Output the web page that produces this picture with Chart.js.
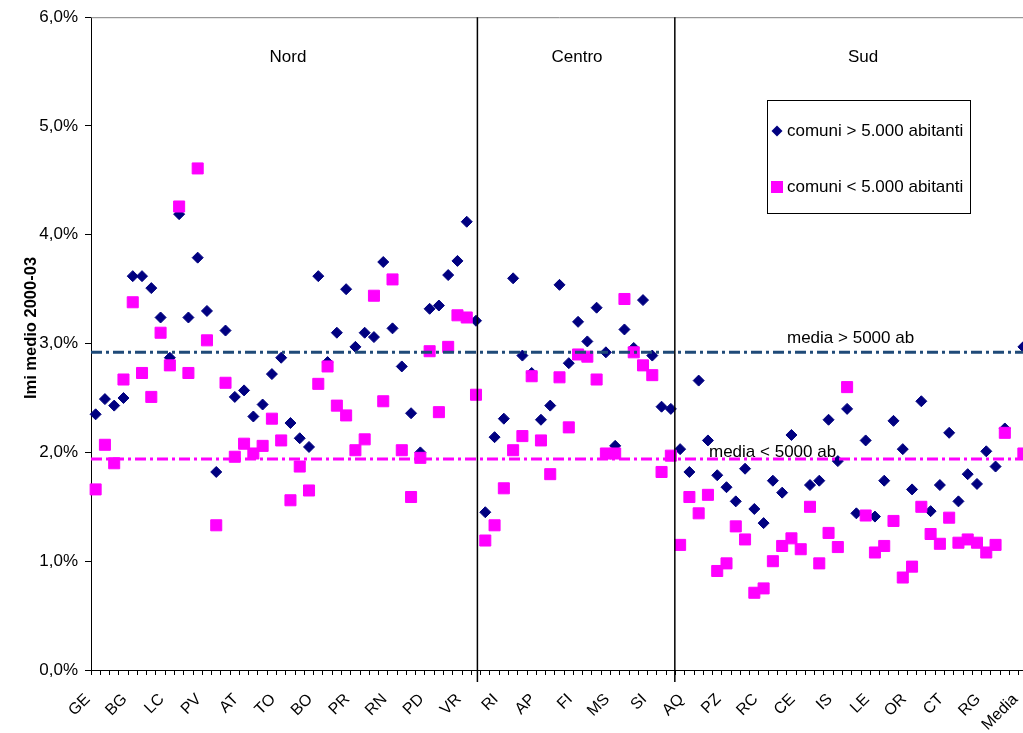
<!DOCTYPE html>
<html>
<head>
<meta charset="utf-8">
<script src="https://cdn.jsdelivr.net/npm/chart.js@4.4.1/dist/chart.umd.min.js"></script>
<style>
  html, body { margin: 0; padding: 0; background: #fff; overflow: hidden; }
  #wrap { width: 1052px; height: 733px; }
</style>
</head>
<body>
<div id="wrap"><canvas id="imiChart"></canvas></div>
<script>
// etichette visibili sull'asse x (una ogni 4 categorie)
const tickLabels = ['GE', 'BG', 'LC', 'PV', 'AT', 'TO', 'BO', 'PR', 'RN', 'PD', 'VR', 'RI', 'AP',
  'FI', 'MS', 'SI', 'AQ', 'PZ', 'RC', 'CE', 'IS', 'LE', 'OR', 'CT', 'RG', 'Media'];
const nCategorie = 101;
const categorie = Array.from({ length: nCategorie }, (_, i) => (i % 4 === 0 ? tickLabels[i / 4] : ''));

// imi medio 2000-03 (%), comuni > 5.000 abitanti
const sopra5000 = [
  2.35, 2.49, 2.43, 2.50, 3.62, 3.62, 3.51, 3.24, 2.87, 4.19,
  3.24, 3.79, 3.30, 1.82, 3.12, 2.51, 2.57, 2.33, 2.44, 2.72,
  2.87, 2.27, 2.13, 2.05, 3.62, 2.83, 3.10, 3.50, 2.97, 3.10,
  3.06, 3.75, 3.14, 2.79, 2.36, 2.00, 3.32, 3.35, 3.63, 3.76,
  4.12, 3.21, 1.45, 2.14, 2.31, 3.60, 2.89, 2.73, 2.30, 2.43,
  3.54, 2.82, 3.20, 3.02, 3.33, 2.92, 2.06, 3.13, 2.96, 3.40,
  2.89, 2.42, 2.40, 2.03, 1.82, 2.66, 2.11, 1.79, 1.68, 1.55,
  1.85, 1.48, 1.35, 1.74, 1.63, 2.16, null, 1.70, 1.74, 2.30,
  1.92, 2.40, 1.44, 2.11, 1.41, 1.74, 2.29, 2.03, 1.66, 2.47,
  1.46, 1.70, 2.18, 1.55, 1.80, 1.71, 2.01, 1.87, 2.22, null,
  2.97
];

// imi medio 2000-03 (%), comuni < 5.000 abitanti
const sotto5000 = [
  1.66, 2.07, 1.90, 2.67, 3.38, 2.73, 2.51, 3.10, 2.80, 4.26,
  2.73, 4.61, 3.03, 1.33, 2.64, 1.96, 2.08, 1.99, 2.06, 2.31,
  2.11, 1.56, 1.87, 1.65, 2.63, 2.79, 2.43, 2.34, 2.02, 2.12,
  3.44, 2.47, 3.59, 2.02, 1.59, 1.95, 2.93, 2.37, 2.97, 3.26,
  3.24, 2.53, 1.19, 1.33, 1.67, 2.02, 2.15, 2.70, 2.11, 1.80,
  2.69, 2.23, 2.90, 2.88, 2.67, 1.99, 1.99, 3.41, 2.92, 2.80,
  2.71, 1.82, 1.97, 1.15, 1.59, 1.44, 1.61, 0.91, 0.98, 1.32,
  1.20, 0.71, 0.75, 1.00, 1.14, 1.21, 1.11, 1.50, 0.98, 1.26,
  1.13, 2.60, null, 1.42, 1.08, 1.14, 1.37, 0.85, 0.95, 1.50,
  1.25, 1.16, 1.40, 1.17, 1.20, 1.17, 1.08, 1.15, 2.18, null,
  1.99
];

const mediaSopra = 2.92;
const mediaSotto = 1.94;

const aree = ['Nord', 'Centro', 'Sud'];
const titoloY = 'Imi medio 2000-03';

const FONT = "'Liberation Sans', Arial, sans-serif";
Chart.defaults.font.family = FONT;
Chart.defaults.color = '#000';

// linee di media, separatori delle aree, testi e legenda
const overlay = {
  id: 'overlay',
  afterDatasetsDraw(chart) {
    const { ctx, chartArea: a, scales: { x, y } } = chart;
    ctx.save();

    // bordo superiore dell'area del grafico
    ctx.strokeStyle = '#808080';
    ctx.lineWidth = 1;
    ctx.beginPath();
    ctx.moveTo(a.left, a.top + 0.5);
    ctx.lineTo(a.right, a.top + 0.5);
    ctx.stroke();

    // medie
    ctx.lineWidth = 3;
    ctx.setLineDash([11, 4, 3, 4]);
    [[mediaSopra, '#1F4A78'], [mediaSotto, '#FF00FF']].forEach(([v, col]) => {
      const py = y.getPixelForValue(v);
      ctx.strokeStyle = col;
      ctx.beginPath();
      ctx.moveTo(a.left, py);
      ctx.lineTo(a.right, py);
      ctx.stroke();
    });
    ctx.setLineDash([]);

    // separatori Nord / Centro / Sud
    ctx.strokeStyle = '#000';
    ctx.lineWidth = 1.5;
    [41.65, 62.93].forEach(pos => {
      const px = x.getPixelForDecimal(pos / nCategorie);
      ctx.beginPath();
      ctx.moveTo(px, a.top);
      ctx.lineTo(px, a.bottom + 12);
      ctx.stroke();
    });

    ctx.fillStyle = '#000';
    ctx.font = '17px ' + FONT;
    ctx.textBaseline = 'middle';
    ctx.textAlign = 'center';
    [[aree[0], 288], [aree[1], 577], [aree[2], 863]].forEach(([t, px]) => ctx.fillText(t, px, 57));

    ctx.textAlign = 'left';
    ctx.textBaseline = 'alphabetic';
    ctx.fillText('media > 5000 ab', 787, y.getPixelForValue(mediaSopra) - 9);
    ctx.fillText('media < 5000 ab', 709, y.getPixelForValue(mediaSotto) - 2);

    // legenda
    ctx.fillStyle = '#fff';
    ctx.fillRect(767.5, 100.5, 203, 113);
    ctx.strokeStyle = '#000';
    ctx.lineWidth = 1;
    ctx.strokeRect(767.5, 100.5, 203, 113);
    const ds = chart.data.datasets;
    [[ds[0], 131], [ds[1], 187]].forEach(([d, ly]) => {
      ctx.fillStyle = d.backgroundColor;
      ctx.beginPath();
      if (d.pointStyle === 'rectRot') {
        ctx.moveTo(777, ly - 5.5);
        ctx.lineTo(782.5, ly);
        ctx.lineTo(777, ly + 5.5);
        ctx.lineTo(771.5, ly);
      } else {
        ctx.rect(771, ly - 6, 12, 12);
      }
      ctx.fill();
      ctx.fillStyle = '#000';
      ctx.textBaseline = 'middle';
      ctx.fillText(d.label, 787, ly);
    });

    // titolo asse y
    ctx.translate(31, 328);
    ctx.rotate(-Math.PI / 2);
    ctx.textAlign = 'center';
    ctx.font = 'bold 16.5px ' + FONT;
    ctx.fillText(titoloY, 0, 0);
    ctx.restore();
  }
};

new Chart(document.getElementById('imiChart'), {
  type: 'line',
  data: {
    labels: categorie,
    datasets: [
      {
        label: 'comuni > 5.000 abitanti',
        data: sopra5000,
        showLine: false,
        pointStyle: 'rectRot',
        pointRadius: 5.5,
        pointHoverRadius: 5.5,
        backgroundColor: '#000080',
        borderColor: '#000080',
        borderWidth: 1,
        order: 1
      },
      {
        label: 'comuni < 5.000 abitanti',
        data: sotto5000,
        showLine: false,
        pointStyle: 'rect',
        pointRadius: 7.8,
        pointHoverRadius: 7.8,
        backgroundColor: '#FF00FF',
        borderColor: '#FF00FF',
        borderWidth: 1,
        order: 0
      }
    ]
  },
  options: {
    responsive: true,
    maintainAspectRatio: false,
    animation: false,
    layout: { padding: { top: 16, right: 4, left: 0, bottom: 0 } },
    plugins: {
      legend: { display: false },
      tooltip: { enabled: false }
    },
    scales: {
      x: {
        type: 'category',
        offset: true,
        grid: { offset: true, drawOnChartArea: false, tickLength: 5, color: '#000' },
        border: { color: '#000' },
        ticks: {
          autoSkip: false,
          minRotation: 45,
          maxRotation: 45,
          padding: 15,
          labelOffset: -8,
          font: { size: 16 }
        },
        afterFit(scale) { scale.height = 63; }
      },
      y: {
        min: 0,
        max: 6,
        ticks: {
          stepSize: 1,
          padding: 7,
          font: { size: 17 },
          callback: v => v.toFixed(1).replace('.', ',') + '%'
        },
        grid: { drawOnChartArea: false, tickLength: 6, color: '#000' },
        border: { color: '#000' },
        afterFit(scale) { scale.width = 91; }
      }
    }
  },
  plugins: [overlay]
});
</script>
</body>
</html>
